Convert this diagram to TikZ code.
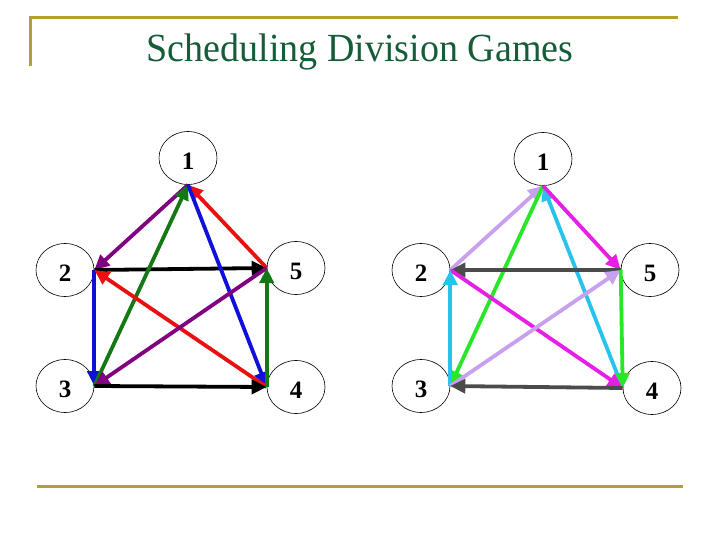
\documentclass[tikz,border=0pt]{standalone}
\usepackage{fontspec}
\setmainfont{Liberation Serif}
\usetikzlibrary{arrows.meta,shapes.geometric}
\definecolor{gold}{RGB}{184,158,46}
\definecolor{titlegreen}{RGB}{22,92,56}
\definecolor{cpurple}{RGB}{128,0,128}
\definecolor{cblue}{RGB}{16,16,220}
\definecolor{cgreen}{RGB}{20,120,20}
\definecolor{cred}{RGB}{235,16,16}
\definecolor{clav}{RGB}{200,160,240}
\definecolor{clime}{RGB}{40,230,40}
\definecolor{ccyan}{RGB}{40,195,235}
\definecolor{cmag}{RGB}{230,30,230}
\definecolor{cgray}{RGB}{75,75,75}
\newcommand{\vlab}[1]{\raisebox{-11.5pt}[0pt][0pt]{#1}}
\begin{document}
\begin{tikzpicture}[x=1pt,y=-1pt,
  vtx/.style={draw=black,line width=0.6pt,ellipse,minimum width=58pt,minimum height=53pt,inner sep=0pt,font=\fontsize{25}{25}\selectfont\bfseries},
  arr/.style={line width=3.8pt,-{Triangle[length=15pt,width=14pt]}},
  rule/.style={draw=gold,line width=3pt}]
\useasboundingbox (0,0) rectangle (720,540);
% frame lines
\coordinate (tl) at (30,66);
\coordinate (tc) at (30,18);
\coordinate (tr) at (678,18);
\draw[rule] (tl) -- (tc) -- (tr);
\coordinate (bl) at (37,486);
\coordinate (br) at (683,486);
\draw[rule] (bl) -- (br);
% title
\node[anchor=base,text=titlegreen,font=\fontsize{38}{38}\selectfont,inner sep=0pt,yscale=1.05] (title) at (360,62) {Scheduling Division Games};
% left graph
\node[vtx] (a1) at (188,158) {\vlab{1}};
\node[vtx] (a2) at (65,270) {\vlab{2}};
\node[vtx] (a3) at (65,386) {\vlab{3}};
\node[vtx] (a5) at (296,268) {\vlab{5}};
\node[vtx] (a4) at (296,387) {\vlab{4}};
\draw[arr,cpurple] (a1.south) -- (a2.east);
\draw[arr,black] (a2.east) -- (a5.west);
\draw[arr,cblue] (a2.east) -- (a3.east);
\draw[arr,cgreen] (a3.east) -- (a1.south);
\draw[arr,cred] (a5.west) -- (a1.south);
\draw[arr,cblue] (a1.south) -- (a4.west);
\draw[arr,cred] (a4.west) -- (a2.east);
\draw[arr,cpurple] (a5.west) -- (a3.east);
\draw[arr,black] (a3.east) -- (a4.west);
\draw[arr,cgreen] (a4.west) -- (a5.west);
% right graph
\node[vtx] (b1) at (543,159) {\vlab{1}};
\node[vtx] (b2) at (421,270) {\vlab{2}};
\node[vtx] (b3) at (421,386) {\vlab{3}};
\node[vtx] (b5) at (650,270) {\vlab{5}};
\node[vtx] (b4) at (652,388) {\vlab{4}};
\draw[arr,clav] (b2.east) -- (b1.south);
\draw[arr,clime] (b1.south) -- (b3.east);
\draw[arr,ccyan] (b4.west) -- (b1.south);
\draw[arr,cmag] (b1.south) -- (b5.west);
\draw[arr,cgray] (b5.west) -- (b2.east);
\draw[arr,cmag] (b2.east) -- (b4.west);
\draw[arr,ccyan] (b3.east) -- (b2.east);
\draw[arr,clav] (b3.east) -- (b5.west);
\draw[arr,clime] (b5.west) -- (b4.west);
\draw[arr,cgray] (b4.west) -- (b3.east);
\end{tikzpicture}
\end{document}
